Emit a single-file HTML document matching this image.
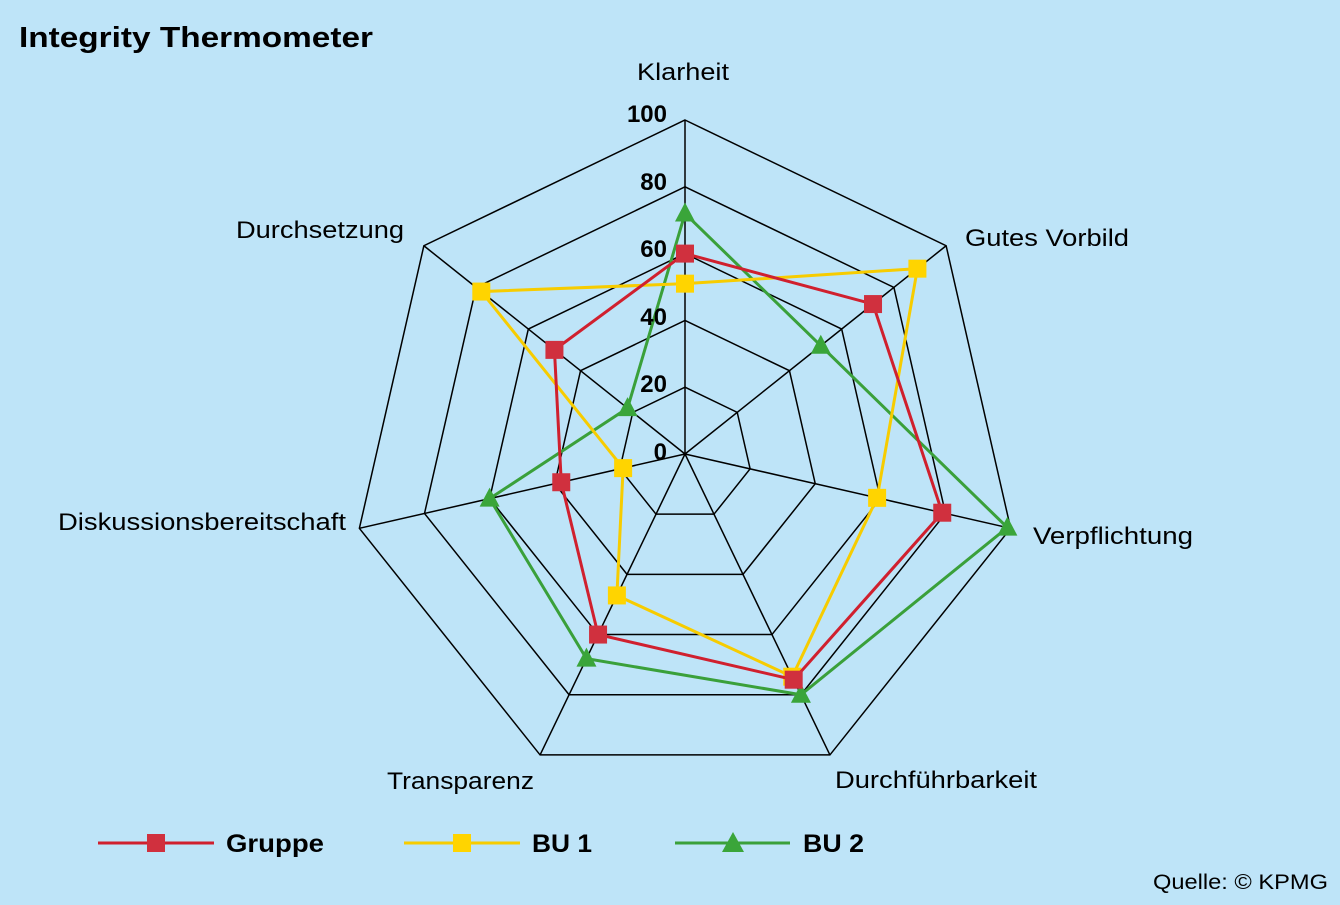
<!DOCTYPE html>
<html><head><meta charset="utf-8">
<style>
html,body{margin:0;padding:0;background:#bee4f8;}
svg{display:block;font-family:"Liberation Sans",Arial,sans-serif;}
</style></head>
<body>
<svg id="s" width="1340" height="905" viewBox="0 0 1340 905" xmlns="http://www.w3.org/2000/svg">
<rect width="1340" height="905" fill="#bee4f8"/>
<text x="19" y="47" font-size="29" font-weight="bold" fill="#000" textLength="354" lengthAdjust="spacingAndGlyphs">Integrity Thermometer</text>
<g id="grid" fill="none" stroke="#000" stroke-width="1.5"></g>
<g id="series"></g>
<g font-size="24" font-weight="bold" text-anchor="end">
<text x="667" y="122">100</text><text x="667" y="190">80</text><text x="667" y="257">60</text>
<text x="667" y="325">40</text><text x="667" y="392">20</text><text x="667" y="460">0</text>
</g>
<g font-size="24" fill="#000" lengthAdjust="spacingAndGlyphs">
<text x="637" y="80" textLength="92" lengthAdjust="spacingAndGlyphs">Klarheit</text>
<text x="965" y="246" textLength="164" lengthAdjust="spacingAndGlyphs">Gutes Vorbild</text>
<text x="1033" y="544" textLength="160" lengthAdjust="spacingAndGlyphs">Verpflichtung</text>
<text x="835" y="788" textLength="202" lengthAdjust="spacingAndGlyphs">Durchführbarkeit</text>
<text x="387" y="789" textLength="147" lengthAdjust="spacingAndGlyphs">Transparenz</text>
<text x="58" y="530" textLength="288" lengthAdjust="spacingAndGlyphs">Diskussionsbereitschaft</text>
<text x="236" y="238" textLength="168" lengthAdjust="spacingAndGlyphs">Durchsetzung</text>
</g>
<g stroke-width="3">
<line x1="98" y1="843" x2="214" y2="843" stroke="#d0202e"/>
<rect x="147" y="834" width="18" height="18" fill="#d0303e"/>
<line x1="404" y1="843" x2="520" y2="843" stroke="#f7cc00"/>
<rect x="453" y="834" width="18" height="18" fill="#ffd400"/>
<line x1="675" y1="843" x2="790" y2="843" stroke="#3aa03a"/>
<polygon points="733,832 744,852 722,852" fill="#3aa53a"/>
</g>
<g font-size="25" font-weight="bold">
<text x="226" y="852" textLength="98" lengthAdjust="spacingAndGlyphs">Gruppe</text>
<text x="532" y="852" textLength="60" lengthAdjust="spacingAndGlyphs">BU 1</text>
<text x="803" y="852" textLength="61" lengthAdjust="spacingAndGlyphs">BU 2</text>
</g>
<text x="1153" y="889" font-size="21" textLength="175" lengthAdjust="spacingAndGlyphs">Quelle: © KPMG</text>
</svg>
<script>
var cx=685,cy=454,R=334;
function pt(i,v){var a=i*2*Math.PI/7;return [cx+R*v/100*Math.sin(a),cy-R*v/100*Math.cos(a)];}
var g=document.getElementById('grid'),h='';
for(var l=1;l<=5;l++){var p=[];for(var i=0;i<7;i++)p.push(pt(i,l*20).join(','));h+='<polygon points="'+p.join(' ')+'"/>';}
for(var i=0;i<7;i++){var q=pt(i,100);h+='<line x1="'+cx+'" y1="'+cy+'" x2="'+q[0]+'" y2="'+q[1]+'"/>';}
g.innerHTML=h;
var S=[
 {d:[72,52,99,80,68,60,22],c:'#3aa03a',f:'#3aa53a',m:'t'},
 {d:[51,89,59,74,47,19,78],c:'#f7cc00',f:'#ffd400',m:'s'},
 {d:[60,72,79,75,60,38,50],c:'#d0202e',f:'#d0303e',m:'s'}];
var sh='';
S.forEach(function(s){var p=[];for(var i=0;i<7;i++)p.push(pt(i,s.d[i]));
 sh+='<polygon points="'+p.map(function(a){return a.join(',')}).join(' ')+'" fill="none" stroke="'+s.c+'" stroke-width="3"/>';
 p.forEach(function(a){if(s.m=='s')sh+='<rect x="'+(a[0]-9)+'" y="'+(a[1]-9)+'" width="18" height="18" fill="'+s.f+'"/>';
 else sh+='<polygon points="'+a[0]+','+(a[1]-11)+' '+(a[0]+10)+','+(a[1]+8)+' '+(a[0]-10)+','+(a[1]+8)+'" fill="'+s.f+'"/>';});});
document.getElementById('series').innerHTML=sh;
</script>
</body></html>
